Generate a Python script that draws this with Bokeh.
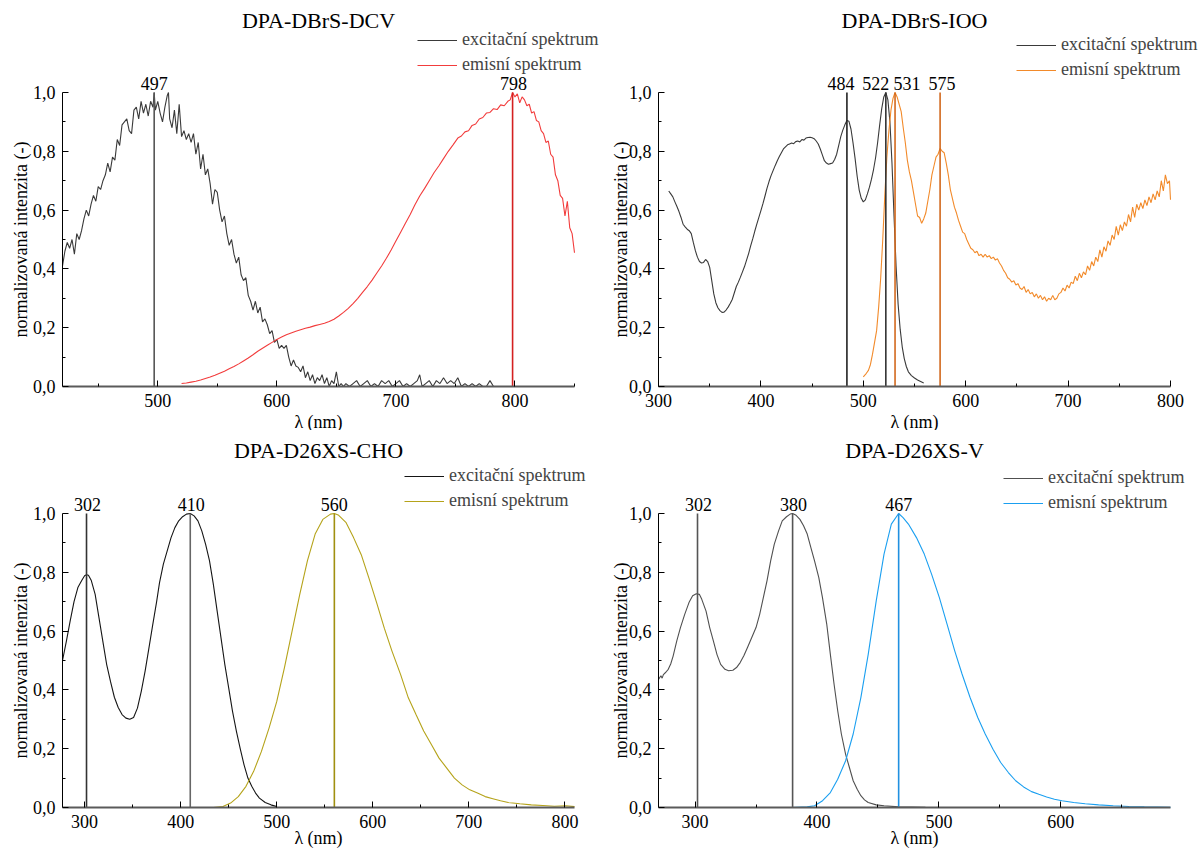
from bokeh.plotting import figure
from bokeh.layouts import column, row
from bokeh.models import (ColumnDataSource, LabelSet, Label, Legend, LegendItem,
                          FixedTicker, CustomJSTickFormatter, Range1d)
from bokeh.core.properties import value
from bokeh.embed import file_html
from bokeh.resources import INLINE

# ---------------- data ----------------
LEGEND_LABELS = ["excitační spektrum", "emisní spektrum"]
X_LABEL = "λ (nm)"
Y_LABEL = "normalizovaná intenzita (-)"
Y_TICKS = [0.0, 0.2, 0.4, 0.6, 0.8, 1.0]
Y_MINOR = [0.1, 0.3, 0.5, 0.7, 0.9]

# DPA-DBrS-DCV
DCV_TITLE = "DPA-DBrS-DCV"
DCV_XRANGE = (420, 850)
DCV_XTICKS = [500, 600, 700, 800]
DCV_XMINOR = [450, 550, 650, 750, 850]
DCV_PEAKS = [497, 798]
DCV_EX = [(420,.41),(422,.46),(424,.49),(426,.47),(428,.50),(430,.45),(432,.52),(434,.50),(436,.53),(438,.57),
          (440,.60),(442,.58),(444,.62),(446,.65),(448,.63),(450,.68),(452,.67),(454,.70),(456,.72),(458,.76),
          (460,.73),(462,.78),(464,.77),(466,.84),(468,.82),(470,.89),(472,.90),(474,.91),(476,.87),(478,.86),
          (480,.94),(482,.95),(484,.91),(486,.97),(488,.93),(490,.96),(492,.92),(494,.97),(496,.95),(497,1.0),
          (498,.94),(500,.97),(502,.93),(504,.90),(506,.95),(508,.99),(509,1.0),(510,.91),(512,.88),(514,.94),
          (516,.86),(518,.96),(520,.85),(522,.87),(524,.84),(526,.86),(528,.83),(530,.86),(532,.79),(534,.83),
          (536,.74),(538,.79),(540,.72),(542,.74),(544,.69),(546,.62),(548,.67),(550,.66),(552,.60),(554,.56),
          (556,.58),(558,.52),(560,.48),(562,.50),(564,.45),(566,.42),(568,.44),(570,.38),(572,.36),(574,.37),
          (576,.31),(578,.29),(580,.26),(582,.29),(584,.25),(586,.27),(588,.22),(590,.23),(592,.21),(594,.18),
          (596,.19),(598,.15),(600,.16),(602,.13),(604,.14),(606,.13),(608,.14),(610,.10),(612,.07),(614,.09),
          (616,.07),(618,.065),(620,.05),(622,.07),(624,.03),(626,.05),(628,.02),(630,.04),(632,.01),(634,.03),
          (636,.02),(638,.04),(640,.01),(642,.03),(644,0),(646,.02),(648,.01),(650,.05),(652,0),(654,.01),
          (656,0),(658,.01),(661,0),(664,.01),(667,.02),(670,0),(673,.01),(676,.02),(679,0),(682,.01),
          (685,0),(688,.02),(691,.01),(694,.02),(697,0),(700,.01),(703,.02),(706,0),(709,.01),(712,0),
          (715,.01),(718,.02),(720,.04),(722,0),(725,.01),(728,.02),(731,0),(734,.02),(737,.01),(740,.03),
          (743,.01),(746,.02),(749,.01),(752,.03),(755,0),(758,.01),(761,0),(764,.01),(767,0),(770,.01),
          (773,0),(776,0),(779,.02),(782,0)]
DCV_EM = [(520,.010),(524,.012),(528,.015),(532,.018),(536,.022),(540,.027),(544,.032),(548,.038),(552,.045),
          (556,.052),(560,.060),(564,.068),(568,.077),(572,.087),(576,.097),(580,.108),(584,.120),(588,.130),
          (592,.140),(596,.150),(600,.160),(604,.168),(608,.176),(612,.182),(616,.188),(620,.193),(624,.198),
          (628,.202),(632,.207),(636,.211),(640,.215),(644,.221),(648,.229),(652,.240),(656,.252),(660,.266),
          (664,.282),(668,.300),(672,.320),(676,.340),(680,.362),(684,.386),(688,.410),(692,.436),(696,.464),
          (700,.495),(704,.525),(708,.555),(712,.585),(716,.618),(720,.648),(724,.673),(728,.700),(732,.727),
          (736,.750),(740,.775),(744,.800),(748,.822),(752,.845),(755,.852),(758,.866),(761,.870),(764,.888),
          (767,.893),(770,.910),(773,.915),(776,.930),(779,.932),(782,.945),(785,.942),(788,.958),(791,.955),
          (794,.970),(796,.975),(798,1.0),(800,.985),(802,.995),(804,.965),(806,.985),(808,.975),(810,.955),
          (812,.960),(814,.930),(816,.935),(818,.905),(820,.900),(822,.870),(824,.860),(826,.830),(828,.835),
          (830,.790),(832,.780),(834,.720),(836,.700),(838,.650),(840,.640),(842,.580),(844,.630),(846,.540),
          (848,.520),(850,.455)]

# DPA-DBrS-IOO
IOO_TITLE = "DPA-DBrS-IOO"
IOO_XRANGE = (300, 800)
IOO_XTICKS = [300, 400, 500, 600, 700, 800]
IOO_XMINOR = [350, 450, 550, 650, 750]
IOO_PEAKS = [484, 522, 531, 575]
IOO_EX = [(310,.665),(312,.655),(314,.645),(316,.628),(318,.612),(320,.595),(322,.575),(324,.552),(326,.543),
          (328,.535),(330,.530),(332,.520),(334,.490),(336,.462),(338,.440),(340,.425),(342,.420),(344,.422),
          (346,.432),(348,.425),(350,.405),(352,.360),(354,.315),(356,.285),(358,.268),(360,.258),(362,.252),
          (364,.253),(366,.260),(368,.270),(370,.282),(372,.296),(374,.318),(376,.340),(378,.355),(380,.372),
          (382,.390),(384,.408),(386,.430),(388,.452),(390,.478),(392,.502),(394,.528),(396,.552),(398,.575),
          (400,.598),(402,.622),(404,.648),(406,.675),(408,.698),(410,.718),(412,.735),(414,.752),(416,.768),
          (418,.782),(420,.795),(422,.808),(424,.815),(426,.822),(428,.825),(430,.828),(432,.826),(434,.833),
          (436,.835),(438,.832),(440,.840),(442,.838),(444,.845),(446,.847),(448,.848),(450,.846),(452,.843),
          (454,.835),(456,.825),(458,.808),(460,.788),(462,.768),(464,.760),(466,.756),(468,.758),(470,.760),
          (472,.772),(474,.790),(476,.820),(478,.850),(480,.872),(482,.890),(484,.905),(486,.902),(488,.875),
          (490,.828),(492,.775),(494,.715),(496,.668),(498,.640),(500,.628),(502,.635),(504,.655),(506,.678),
          (508,.705),(510,.738),(512,.778),(514,.830),(516,.890),(518,.945),(520,.985),(522,1.0),(524,.975),
          (526,.900),(528,.760),(530,.580),(532,.410),(534,.280),(536,.195),(538,.135),(540,.095),(542,.068),
          (544,.050),(547,.037),(550,.029),(553,.022),(556,.017),(559,.012)]
IOO_EM = [(500,.033),(503,.045),(505,.055),(507,.075),(509,.11),(511,.15),(513,.19),(515,.27),(517,.37),
          (519,.50),(521,.65),(523,.78),(525,.87),(527,.94),(529,.98),(531,1.0),(533,.985),(535,.96),(537,.935),
          (539,.88),(541,.83),(543,.77),(545,.73),(547,.70),(549,.66),(551,.62),(553,.58),(555,.575),(557,.555),
          (559,.57),(561,.59),(563,.63),(565,.67),(567,.72),(569,.75),(571,.78),(573,.79),(575,.81),(577,.80),
          (579,.795),(581,.76),(583,.72),(585,.67),(587,.64),(589,.61),(591,.59),(593,.565),(595,.545),
          (597,.525),(599,.52),(601,.50),(603,.485),(605,.47),(607,.465),(609,.455),(611,.46),(613,.445),
          (615,.45),(617,.44),(619,.45),(621,.44),(623,.445),(625,.435),(627,.44),(629,.43),(631,.435),
          (633,.42),(635,.41),(637,.395),(639,.385),(641,.37),(643,.365),(645,.355),(647,.36),(649,.345),
          (651,.35),(653,.335),(655,.33),(657,.34),(659,.32),(661,.33),(663,.315),(665,.32),(667,.305),
          (669,.315),(671,.30),(673,.31),(675,.295),(677,.305),(679,.29),(681,.30),(683,.295),(685,.31),
          (687,.295),(689,.30),(691,.315),(693,.32),(695,.335),(697,.325),(699,.345),(701,.335),(703,.355),
          (705,.35),(707,.375),(709,.36),(711,.385),(713,.37),(715,.39),(717,.38),(719,.41),(721,.395),
          (723,.425),(725,.41),(727,.44),(729,.425),(731,.465),(733,.44),(735,.475),(737,.46),(739,.495),
          (741,.48),(743,.515),(745,.50),(747,.545),(749,.515),(751,.55),(753,.53),(755,.56),(757,.545),
          (759,.585),(761,.56),(763,.61),(765,.575),(767,.62),(769,.60),(771,.625),(773,.605),(775,.635),
          (777,.615),(779,.645),(781,.625),(783,.655),(785,.635),(787,.665),(789,.645),(791,.70),(793,.665),
          (795,.72),(797,.69),(799,.70),(800,.635)]

# DPA-D26XS-CHO
CHO_TITLE = "DPA-D26XS-CHO"
CHO_XRANGE = (277, 810)
CHO_XTICKS = [300, 400, 500, 600, 700, 800]
CHO_XMINOR = [350, 450, 550, 650, 750]
CHO_PEAKS = [302, 410, 560]
CHO_EX = [(277,.500),(281,.565),(285,.635),(289,.700),(293,.748),(297,.772),(300,.788),(302,.792),(304,.790),
          (307,.772),(311,.725),(315,.645),(319,.565),(323,.486),(327,.428),(331,.375),(335,.340),(339,.316),
          (343,.304),(347,.300),(351,.306),(355,.338),(359,.395),(363,.464),(367,.543),(371,.623),(375,.700),
          (378,.765),(382,.828),(386,.873),(390,.918),(394,.952),(398,.975),(402,.989),(406,.998),(410,1.0),
          (414,.992),(418,.975),(422,.941),(426,.895),(430,.840),(434,.760),(438,.668),(442,.577),(446,.486),
          (450,.407),(454,.327),(458,.260),(462,.200),(466,.145),(470,.100),(474,.072),(478,.049),(482,.032),
          (488,.017),(494,.009),(500,.003)]
CHO_EM = [(434,0),(444,.003),(452,.015),(460,.037),(468,.072),(476,.123),(484,.190),(492,.270),(500,.360),
          (508,.475),(516,.600),(524,.725),(532,.840),(540,.930),(548,.980),(556,.998),(560,1.0),(564,.995),
          (572,.970),(580,.918),(588,.860),(596,.780),(604,.697),(612,.610),(620,.532),(629,.452),(637,.373),
          (645,.316),(653,.260),(661,.214),(669,.168),(677,.134),(685,.100),(693,.077),(701,.060),(709,.049),
          (717,.037),(725,.030),(733,.023),(741,.017),(753,.0125),(765,.009),(777,.007),(789,.0045),
          (801,.0057),(810,.003)]

# DPA-D26XS-V
V_TITLE = "DPA-D26XS-V"
V_XRANGE = (270, 690)
V_XTICKS = [300, 400, 500, 600]
V_XMINOR = [350, 450, 550, 650]
V_PEAKS = [302, 380, 467]
V_EX = [(270,.436),(272,.448),(273,.440),(274,.452),(276,.460),(278,.470),(280,.488),(282,.515),(285,.567),
        (288,.612),(291.5,.657),(295,.697),(298,.720),(301,.727),(303.5,.725),(305.5,.708),(309,.668),
        (312,.612),(315,.567),(318,.520),(321,.487),(324.5,.470),(327.5,.465),(331,.467),(334,.476),
        (337,.493),(340,.516),(343,.544),(346.5,.578),(350,.612),(353,.657),(356,.714),(359,.771),(362,.839),
        (365,.896),(368.5,.941),(371.5,.975),(375,.989),(378,.998),(380,1.0),(382.5,.995),(386,.980),
        (389,.958),(392,.930),(395,.884),(398,.839),(401.5,.782),(404.5,.714),(408,.624),(411,.520),
        (414,.420),(417,.329),(420,.250),(423.5,.181),(426.6,.136),(429.7,.091),(433,.062),(436,.040),
        (439,.026),(442,.017),(448.6,.009),(455,.0057),(467,.002),(489,.001)]
V_EM = [(360.6,0),(379.5,0),(392,.002),(398,.006),(404.6,.023),(411,.051),(417,.096),(423.5,.159),
        (429.7,.250),(436,.374),(442,.520),(448.6,.703),(455,.862),(461,.964),(467,1.0),(470.6,.986),
        (475,.964),(481.6,.918),(488,.862),(494,.794),(500.4,.714),(506.7,.624),(513,.533),(519,.454),
        (525.6,.374),(531.9,.306),(538,.250),(544.4,.198),(550.7,.153),(557,.119),(563,.091),(569.5,.070),
        (576,.054),(582,.045),(588.4,.036),(594.8,.028),(601,.023),(610.6,.017),(620,.0125),(631,.009),
        (643,.0057),(656,.0034),(668.5,.002),(690,.001)]

# ---------------- styling / layout ----------------
FONT = "Liberation Serif"
FIG_W = 600


def build(title, xr, xt, xm, ex, em, ex_col, em_col, peaks, pk_cols, pk_dx,
          H, L, R, T, B, leg_xy, title_y, xlab_y, ylab_y):
    W = FIG_W
    xmin, xmax = xr
    sx = (xmax - xmin) / (R - L)
    sy = 1.0 / (B - T)
    p = figure(width=W, height=H,
               x_range=Range1d(xmin - L * sx, xmax + (W - R) * sx),
               y_range=Range1d(-(H - B) * sy, 1 + T * sy),
               output_backend="svg", toolbar_location=None, title=None,
               min_border=0)
    p.outline_line_color = None
    p.grid.visible = False

    ex_src = ColumnDataSource(dict(x=[a for a, _ in ex], y=[b for _, b in ex]))
    em_src = ColumnDataSource(dict(x=[a for a, _ in em], y=[b for _, b in em]))
    r_ex = p.line("x", "y", source=ex_src, line_color=ex_col, line_width=1.1)
    r_em = p.line("x", "y", source=em_src, line_color=em_col, line_width=1.1)

    n = len(peaks)
    pk_src = ColumnDataSource(dict(x=peaks, y0=[0] * n, y1=[1] * n, c=pk_cols,
                                   t=[str(v) for v in peaks], dx=pk_dx))
    p.segment(x0="x", y0="y0", x1="x", y1="y1", line_color="c", line_width=1.6, source=pk_src)
    p.add_layout(LabelSet(x="x", y="y1", text="t", x_offset="dx", y_offset=3, source=pk_src,
                          text_align="center", text_baseline="alphabetic",
                          text_font=value(FONT), text_font_size=value("18px"),
                          text_color="black"))

    # axis lines limited to the data region
    p.segment(x0=[xmin], y0=[0], x1=[xmax], y1=[0], line_color="#5a5a5a", line_width=2)
    p.segment(x0=[xmin], y0=[0], x1=[xmin], y1=[1], line_color="black", line_width=1)

    leg = Legend(items=[LegendItem(label=LEGEND_LABELS[0], renderers=[r_ex]),
                        LegendItem(label=LEGEND_LABELS[1], renderers=[r_em])],
                 location=leg_xy, orientation="vertical",
                 background_fill_alpha=0, border_line_alpha=0,
                 label_text_font=FONT, label_text_font_size="18px",
                 glyph_width=40, glyph_height=20, label_height=20,
                 label_standoff=5, spacing=4, padding=0, margin=0)
    p.add_layout(leg)

    p.xaxis.fixed_location = 0
    p.yaxis.fixed_location = xmin
    p.xaxis.ticker = FixedTicker(ticks=xt, minor_ticks=xm)
    p.yaxis.ticker = FixedTicker(ticks=Y_TICKS, minor_ticks=Y_MINOR)
    p.yaxis.formatter = CustomJSTickFormatter(code="return tick.toFixed(1).replace('.', ',');")
    for ax in p.axis:
        ax.axis_line_color = None
        ax.major_tick_in = 6
        ax.major_tick_out = 0
        ax.minor_tick_in = 3
        ax.minor_tick_out = 0
        ax.major_label_text_font = FONT
        ax.major_label_text_font_size = "18px"
        ax.major_label_text_color = "black"
        ax.major_label_standoff = 7
        ax.major_tick_line_color = "black"
        ax.minor_tick_line_color = "black"

    cx = (L + R) / 2
    p.add_layout(Label(x=cx, y=title_y, x_units="screen", y_units="screen", text=title,
                       text_align="center", text_baseline="middle",
                       text_font=FONT, text_font_size="22px", text_color="black"))
    p.add_layout(Label(x=cx, y=xlab_y, x_units="screen", y_units="screen", text=X_LABEL,
                       text_align="center", text_baseline="middle",
                       text_font=FONT, text_font_size="18px", text_color="black"))
    p.add_layout(Label(x=20, y=ylab_y, x_units="screen", y_units="screen", text=Y_LABEL,
                       angle=90, angle_units="deg",
                       text_align="center", text_baseline="middle",
                       text_font=FONT, text_font_size="18px", text_color="black"))
    return p


p1 = build(DCV_TITLE, DCV_XRANGE, DCV_XTICKS, DCV_XMINOR, DCV_EX, DCV_EM, "#3a3a3a", "#f23c3c",
           DCV_PEAKS, ["#555555", "#d42020"], [0, 1],
           430, 62, 574, 92, 386, (417, 355), 410, 9, 191)
p2 = build(IOO_TITLE, IOO_XRANGE, IOO_XTICKS, IOO_XMINOR, IOO_EX, IOO_EM, "#3a3a3a", "#f28a2a",
           IOO_PEAKS, ["#222222", "#333333", "#d2691e", "#d2691e"], [-6, -10, 12, 2],
           430, 58, 570, 92, 386, (416, 350), 410, 9, 191)
p3 = build(CHO_TITLE, CHO_XRANGE, CHO_XTICKS, CHO_XMINOR, CHO_EX, CHO_EM, "#151515", "#b5a31a",
           CHO_PEAKS, ["#333333", "#666666", "#a09010"], [1, 1, 0],
           418, 62, 574, 83, 377, (404, 337), 398, 11, 188)
p4 = build(V_TITLE, V_XRANGE, V_XTICKS, V_XMINOR, V_EX, V_EM, "#505050", "#1a9ff0",
           V_PEAKS, ["#555555", "#555555", "#2090e0"], [1, 1, 0],
           418, 58, 570, 83, 377, (403, 335), 398, 11, 188)

layout = column(row(p1, p2), row(p3, p4))
open("out.html", "w").write(file_html(layout, INLINE))
